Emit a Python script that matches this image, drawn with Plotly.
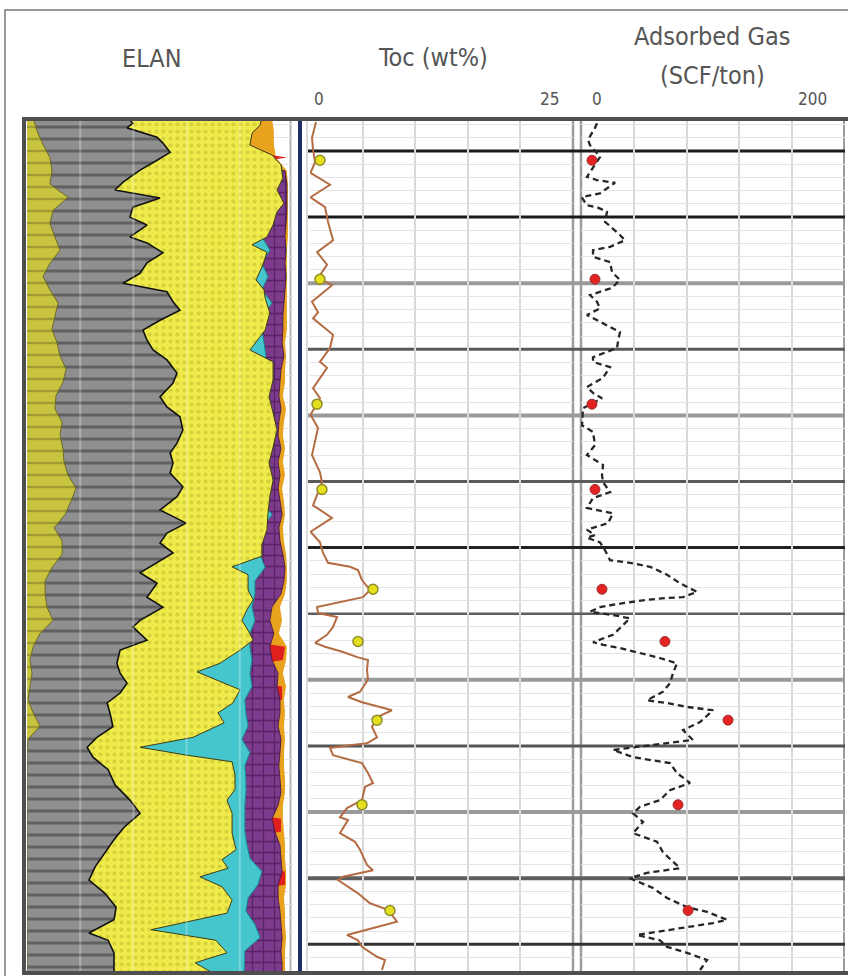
import plotly.graph_objects as go

W, H = 848, 976

# ---------------- data ----------------
# ELAN volume curves sampled every 2 ft; cumulative boundaries in % of bulk volume
elan_depth = list(range(4995, 5127, 2))

olive_top = [
    2.3, 3.8, 6.0, 8.6, 9.4, 8.6, 15.4, 9.8, 8.6, 10.5,
    12.4, 8.6, 6.0, 8.6, 11.7, 10.5, 9.4, 11.3, 12.4, 14.7,
    13.5, 10.9, 10.5, 13.2, 12.4, 13.5, 13.9, 15.4, 18.4, 16.5,
    14.3, 10.2, 13.2, 13.2, 9.4, 6.8, 6.8, 7.5, 9.8, 4.9,
    2.3, 1.1, 1.9, 1.1, 0.4, 2.3, 4.9, 0.4, 0.0, 0.0,
    0.0, 0.0, 0.0, 0.0, 0.0, 0.0, 0.0, 0.0, 0.0, 0.0,
    0.0, 0.0, 0.0, 0.0, 0.0, 0.0]

calcite_top = [
    65.0, 65.0, 65.0, 65.0, 65.0, 65.0, 65.0, 65.0, 65.0, 88.3,
    91.3, 88.3, 90.6, 88.3, 92.1, 88.3, 88.3, 89.1, 89.8, 88.3,
    88.3, 88.3, 88.3, 88.3, 88.3, 88.3, 88.3, 88.3, 88.3, 88.3,
    92.1, 88.3, 86.8, 87.6, 89.5, 85.7, 85.7, 84.6, 85.7, 83.8,
    83.8, 84.6, 83.8, 84.6, 81.9, 82.3, 83.1, 80.8, 83.8, 81.9,
    82.3, 82.3, 81.9, 81.9, 81.9, 82.7, 83.8, 88.3, 86.8, 83.1,
    82.3, 85.7, 87.6, 81.9, 81.6, 81.6]

dolomite_top = [
    65.0, 65.0, 65.0, 65.0, 97.0, 97.7, 97.7, 97.7, 97.4, 97.0,
    97.4, 97.0, 97.4, 97.0, 96.6, 96.2, 96.2, 95.9, 96.6, 95.5,
    95.1, 94.7, 95.5, 94.7, 94.4, 95.5, 94.4, 95.1, 94.4, 95.1,
    95.9, 94.7, 95.1, 96.2, 97.0, 96.6, 95.5, 92.1, 91.3, 92.8,
    91.3, 92.1, 94.4, 94.0, 95.1, 95.1, 94.4, 95.5, 95.1, 94.7,
    95.1, 95.5, 94.4, 92.1, 93.2, 95.1, 95.5, 95.9, 94.4, 94.4,
    95.1, 95.5, 95.9, 95.5, 95.9, 95.9]

pyrite_top = [
    65.0, 65.0, 65.0, 97.7, 65.0, 65.0, 65.0, 65.0, 65.0, 65.0,
    65.0, 65.0, 65.0, 65.0, 65.0, 65.0, 65.0, 65.0, 65.0, 65.0,
    65.0, 65.0, 65.0, 65.0, 65.0, 65.0, 65.0, 65.0, 65.0, 65.0,
    65.0, 65.0, 65.0, 65.0, 65.0, 65.0, 65.0, 65.0, 65.0, 65.0,
    97.0, 96.2, 65.0, 95.9, 95.9, 65.0, 65.0, 65.0, 65.0, 65.0,
    65.0, 65.0, 65.0, 95.5, 95.5, 65.0, 65.0, 97.0, 97.0, 65.0,
    65.0, 65.0, 96.6, 65.0, 65.0, 65.0]

orange_top = [
    92.1, 92.8, 92.8, 93.6, 97.7, 98.1, 98.1, 98.1, 98.1, 98.1,
    97.7, 97.7, 97.7, 97.7, 97.7, 97.7, 97.7, 97.0, 97.4, 97.0,
    97.0, 96.2, 97.4, 96.6, 96.2, 97.0, 96.2, 97.0, 95.9, 96.6,
    97.0, 96.2, 96.6, 97.4, 97.7, 97.7, 97.0, 95.1, 95.9, 94.7,
    97.7, 97.4, 96.2, 97.4, 96.6, 97.0, 96.6, 97.0, 96.6, 96.6,
    97.0, 97.0, 96.2, 96.2, 96.6, 97.0, 97.0, 97.4, 97.4, 96.6,
    97.0, 97.0, 97.4, 97.0, 97.0, 97.0]

# shale / sand boundaries picked at their own depths
shale_depth = [
    4995.0, 4995.8, 4996.5, 4997.9, 4998.8, 5000.2, 5001.4, 5002.9, 5004.7, 5005.9,
    5007.1, 5008.5, 5010.0, 5011.2, 5013.0, 5013.9, 5015.4, 5016.9, 5018.5, 5020.0,
    5021.3, 5022.8, 5024.1, 5025.6, 5027.1, 5028.6, 5030.1, 5031.6, 5033.6, 5035.1,
    5037.2, 5038.7, 5040.2, 5042.2, 5044.2, 5045.7, 5047.2, 5048.7, 5050.8, 5052.3,
    5054.3, 5056.3, 5057.8, 5059.3, 5060.8, 5062.3, 5063.8, 5065.4, 5067.5, 5069.0,
    5071.0, 5072.0, 5074.0, 5075.5, 5077.5, 5079.0, 5080.5, 5082.0, 5083.5, 5085.0,
    5087.1, 5088.7, 5090.2, 5091.7, 5093.6, 5095.9, 5098.2, 5100.2, 5102.3, 5104.2,
    5106.2, 5108.3, 5110.3, 5112.3, 5114.4, 5116.3, 5118.3, 5119.4, 5121.3, 5123.4,
    5125.0]
shale_top = [
    38.0, 39.8, 37.6, 48.9, 51.1, 53.8, 48.9, 42.5, 36.1, 33.1,
    50.0, 39.8, 38.7, 45.1, 38.7, 45.1, 51.1, 45.1, 42.5, 36.1,
    52.6, 54.9, 57.5, 50.0, 43.6, 45.1, 47.4, 52.6, 56.4, 54.9,
    50.0, 52.6, 57.5, 58.6, 56.4, 53.8, 54.9, 53.8, 58.6, 56.4,
    50.0, 59.8, 52.6, 50.0, 54.9, 48.9, 42.5, 48.9, 45.1, 51.1,
    42.5, 39.8, 45.1, 35.0, 33.8, 35.0, 37.6, 35.0, 30.1, 31.2,
    32.3, 26.3, 22.6, 24.8, 30.5, 33.1, 38.7, 42.5, 36.5, 32.7,
    29.3, 25.6, 23.3, 29.3, 33.5, 32.7, 23.3, 30.5, 32.7, 32.7,
    32.7]

sand_depth = [
    4995.0, 4996.1, 4997.3, 4999.1, 5000.6, 5002.1, 5004.1, 5005.9, 5007.9, 5009.2,
    5011.2, 5013.0, 5014.2, 5015.3, 5017.2, 5019.5, 5021.0, 5022.2, 5024.5, 5027.1,
    5030.1, 5031.9, 5034.6, 5037.2, 5039.6, 5042.2, 5044.8, 5047.2, 5049.8, 5052.3,
    5054.8, 5057.3, 5059.6, 5061.3, 5062.9, 5064.1, 5066.4, 5067.9, 5069.4, 5071.0,
    5072.5, 5074.0, 5075.5, 5077.5, 5078.8, 5080.0, 5081.5, 5083.5, 5085.0, 5086.5,
    5088.7, 5090.2, 5091.4, 5092.4, 5094.4, 5096.6, 5098.2, 5100.2, 5103.2, 5105.7,
    5107.2, 5108.5, 5109.8, 5111.3, 5113.3, 5115.3, 5116.8, 5117.8, 5119.4, 5121.3,
    5122.8, 5125.0]
sand_top = [
    88.3, 87.6, 84.6, 83.8, 92.1, 95.5, 96.2, 94.0, 96.6, 94.0,
    92.5, 90.2, 84.6, 90.2, 88.7, 86.1, 89.1, 89.5, 91.3, 89.5,
    83.8, 92.5, 92.5, 91.0, 92.5, 94.0, 92.5, 91.0, 92.5, 91.3,
    90.6, 90.2, 88.3, 88.3, 77.1, 83.1, 83.1, 85.0, 82.7, 80.8,
    83.1, 85.0, 80.1, 72.5, 63.9, 71.4, 80.1, 77.4, 71.8, 74.1,
    62.4, 42.5, 60.1, 77.1, 78.2, 78.2, 75.2, 77.1, 77.1, 78.6,
    73.3, 75.6, 65.0, 73.3, 77.1, 75.2, 57.5, 46.6, 71.0, 75.2,
    63.2, 72.5]

# TOC log (wt%)
toc_depth = [
    4995.6, 4996.1, 4998.0, 4999.8, 5001.7, 5003.3, 5005.1, 5007.0, 5008.5, 5010.7,
    5013.5, 5015.3, 5017.2, 5019.2, 5020.3, 5022.8, 5024.4, 5025.3, 5027.8, 5029.8,
    5031.9, 5032.8, 5035.9, 5037.4, 5039.9, 5041.9, 5044.0, 5046.0, 5048.6, 5050.1,
    5053.6, 5055.5, 5057.6, 5059.2, 5060.8, 5062.3, 5062.9, 5063.4, 5064.9, 5066.4,
    5067.5, 5067.9, 5068.4, 5069.0, 5069.9, 5070.5, 5072.0, 5073.2, 5074.4, 5075.0,
    5075.8, 5076.6, 5077.0, 5078.5, 5080.0, 5081.8, 5082.6, 5083.4, 5084.1, 5084.6,
    5085.6, 5087.1, 5088.7, 5089.6, 5089.9, 5090.3, 5091.4, 5092.1, 5092.6, 5094.1,
    5095.6, 5096.2, 5098.2, 5099.4, 5100.8, 5101.2, 5103.2, 5104.5, 5105.7, 5108.0,
    5108.8, 5109.8, 5110.3, 5112.3, 5113.8, 5114.8, 5116.6, 5117.4, 5118.6, 5119.4,
    5120.4, 5121.9, 5122.4, 5123.9]
toc_wt = [
    0.57, 0.48, 0.19, 0.29, 0.48, 0.05, 1.90, 0.05, 1.43, 1.71,
    2.19, 0.67, 1.62, 0.76, 2.09, 0.19, 0.76, 0.29, 2.19, 1.90,
    0.95, 1.62, 0.29, 0.95, 0.05, 0.76, 0.48, 0.19, 0.95, 1.14,
    0.29, 2.09, 0.05, 0.95, 1.24, 1.71, 3.80, 4.56, 4.94, 5.70,
    5.04, 3.80, 2.19, 0.67, 0.76, 2.57, 2.19, 1.62, 0.48, 1.43,
    3.14, 4.56, 5.51, 5.42, 5.51, 4.75, 3.61, 4.94, 6.65, 7.79,
    6.46, 5.89, 6.37, 5.42, 3.80, 1.90, 2.19, 3.80, 4.94, 5.51,
    5.99, 5.23, 4.94, 3.52, 2.85, 3.61, 2.85, 4.28, 4.75, 5.42,
    5.99, 3.14, 2.66, 4.56, 5.70, 7.41, 8.27, 6.37, 3.52, 4.56,
    4.94, 6.37, 7.13, 6.84]

# adsorbed gas log (SCF/ton)
gas_depth = [
    4995.8, 4996.5, 4998.3, 4999.1, 5000.9, 5003.9, 5004.4, 5004.8, 5006.4, 5007.0,
    5008.2, 5008.5, 5009.2, 5010.7, 5012.7, 5013.5, 5014.5, 5015.0, 5016.0, 5016.8,
    5018.3, 5019.5, 5020.7, 5021.8, 5022.8, 5023.8, 5024.8, 5026.0, 5027.4, 5028.9,
    5029.8, 5031.2, 5031.9, 5032.7, 5034.3, 5035.7, 5036.6, 5037.4, 5038.9, 5041.5,
    5042.5, 5044.5, 5046.0, 5047.5, 5049.0, 5050.1, 5051.6, 5052.5, 5054.0, 5054.8,
    5056.3, 5057.3, 5058.1, 5058.5, 5059.2, 5060.4, 5061.9, 5062.3, 5062.9, 5064.1,
    5065.4, 5066.7, 5067.5, 5067.6, 5067.9, 5068.4, 5069.0, 5069.7, 5070.2, 5070.7,
    5072.2, 5073.2, 5074.3, 5074.7, 5075.2, 5075.9, 5076.7, 5077.5, 5079.0, 5080.5,
    5081.8, 5083.1, 5083.5, 5084.1, 5084.6, 5086.4, 5087.6, 5089.1, 5089.6, 5089.9,
    5090.6, 5091.7, 5092.1, 5092.6, 5094.1, 5095.6, 5096.7, 5098.2, 5099.2, 5100.2,
    5101.5, 5103.2, 5104.5, 5106.1, 5108.5, 5109.2, 5110.0, 5111.5, 5113.0, 5114.4,
    5115.1, 5116.3, 5116.8, 5117.4, 5117.8, 5118.6, 5119.4, 5120.4, 5121.3, 5122.4,
    5123.9]
gas_scf = [
    12.1, 10.6, 5.3, 6.8, 14.4, 4.5, 12.1, 25.8, 14.4, 0.5,
    4.5, 12.1, 19.7, 18.2, 29.5, 33.3, 22.0, 9.1, 9.1, 22.0,
    23.5, 29.5, 23.5, 6.8, 12.1, 14.4, 4.5, 15.9, 29.5, 28.0,
    27.3, 9.1, 9.1, 22.0, 16.7, 4.5, 9.1, 15.9, 1.5, 0.8,
    9.1, 10.6, 4.5, 16.7, 15.9, 16.7, 22.0, 9.1, 4.5, 24.2,
    20.5, 4.5, 10.6, 4.5, 14.4, 18.2, 22.0, 37.1, 52.3, 65.2,
    75.0, 87.9, 77.3, 65.2, 50.0, 31.8, 14.4, 6.8, 24.2, 37.1,
    29.5, 24.2, 9.1, 16.7, 29.5, 44.7, 59.8, 72.7, 69.7, 67.4,
    62.1, 50.0, 65.2, 80.3, 100.0, 90.2, 77.3, 84.8, 65.2, 50.0,
    24.2, 39.4, 52.3, 67.4, 72.7, 82.6, 67.4, 59.8, 44.7, 39.4,
    47.0, 39.4, 57.6, 62.1, 75.0, 50.0, 37.1, 54.5, 65.2, 80.3,
    95.5, 110.6, 100.0, 80.3, 65.2, 42.4, 59.8, 65.2, 80.3, 95.5,
    90.2]

# core measurements
core_depth = [5001.4, 5019.4, 5038.3, 5051.2, 5066.3, 5074.2, 5086.1, 5098.9, 5114.9]
core_toc = [0.95, 0.95, 0.67, 1.14, 5.99, 4.56, 6.37, 4.94, 7.60]
core_gas = [8.3, 10.6, 8.3, 10.6, 15.9, 63.6, 111.4, 73.5, 81.1]

# depth markers every 10 ft
marker_depths = list(range(5000, 5121, 10))

# ---------------- layout helpers ----------------
def px(x):
    return x / W


def py(y):
    return 1 - y / H


TOP_PX, BOT_PX = 121, 971
D_TOP, D_BOT = 4995.46, 5124.05

fig = go.Figure()

# ELAN: stacked volumes drawn right-to-left, each filled to the track origin
elan_layers = [
    (orange_top, elan_depth, '#e9a21e', None, dict(width=0)),
    (pyrite_top, elan_depth, '#e01f1f', None, dict(width=0)),
    (dolomite_top, elan_depth, '#7c3b8c',
     dict(shape='+', fgcolor='#572364', bgcolor='#7c3b8c', size=11, solidity=0.22, fillmode='replace'),
     dict(color='#3a1440', width=0.8)),
    (calcite_top, elan_depth, '#45c6cd', None, dict(color='#168b92', width=1)),
    (sand_top, sand_depth, '#efeb4b',
     dict(shape='.', fgcolor='#d6d13c', bgcolor='#efeb4b', size=7, solidity=0.28, fillmode='replace'),
     dict(color='#3d3d16', width=1)),
    (shale_top, shale_depth, '#8f8f8f',
     dict(shape='-', fgcolor='#616161', bgcolor='#8f8f8f', size=12, solidity=0.25, fillmode='replace'),
     dict(color='#111111', width=1.6)),
    (olive_top, elan_depth, '#c9c440',
     dict(shape='-', fgcolor='#a09c30', bgcolor='#c9c440', size=12, solidity=0.2, fillmode='replace'),
     dict(color='#6b6a25', width=1)),
]
for vals, dep, color, pattern, line in elan_layers:
    kw = dict(x=vals, y=dep, xaxis='x', yaxis='y', mode='lines', fill='tozerox',
              fillcolor=color, line=line, hoverinfo='skip')
    if pattern:
        kw['fillpattern'] = pattern
    fig.add_trace(go.Scatter(**kw))

# TOC log and core points
fig.add_trace(go.Scatter(x=toc_wt, y=toc_depth, xaxis='x2', yaxis='y', mode='lines',
                         line=dict(color='#b36c44', width=2)))
fig.add_trace(go.Scatter(x=core_toc, y=core_depth, xaxis='x2', yaxis='y', mode='markers',
                         marker=dict(symbol='circle', size=10, color='#e4e01e',
                                     line=dict(color='#8e8b2c', width=1.5))))

# adsorbed gas log and core points
fig.add_trace(go.Scatter(x=gas_scf, y=gas_depth, xaxis='x3', yaxis='y', mode='lines',
                         line=dict(color='#262626', width=2.3, dash='6px,4px')))
fig.add_trace(go.Scatter(x=core_gas, y=core_depth, xaxis='x3', yaxis='y', mode='markers',
                         marker=dict(symbol='circle', size=10, color='#e42222',
                                     line=dict(color='#9c3232', width=1))))

minor_depths = [d for d in range(4996, 5125, 2) if d % 10]

axis_common = dict(showline=False, zeroline=False, showticklabels=False, ticks='',
                   anchor='y', fixedrange=True)
fig.update_layout(
    width=W, height=H,
    margin=dict(l=0, r=0, t=0, b=0),
    paper_bgcolor='white',
    plot_bgcolor='rgba(0,0,0,0)',
    showlegend=False,
    xaxis=dict(domain=[px(27), px(293)], range=[0, 100], showgrid=False, **axis_common),
    xaxis2=dict(domain=[px(310), px(573)], range=[0, 25], showgrid=True,
                tickmode='array', tickvals=[5, 10, 15, 20],
                gridcolor='#d9d9d9', gridwidth=2, **axis_common),
    xaxis3=dict(domain=[px(581), px(845)], range=[0, 200], showgrid=True,
                tickmode='array', tickvals=[40, 80, 120, 160],
                gridcolor='#d9d9d9', gridwidth=2, **axis_common),
    yaxis=dict(domain=[py(BOT_PX), py(TOP_PX)], range=[D_BOT, D_TOP], anchor='x',
               showgrid=True, tickmode='array', tickvals=minor_depths,
               gridcolor='#e4e4e4', gridwidth=1, showline=False, zeroline=False,
               showticklabels=False, ticks='', fixedrange=True),
)

shapes = []
# track separators
for xpix, col, wid in [(290.5, '#b3b3b3', 2), (307, '#cfcfcf', 1.5), (573, '#9c9c9c', 2.5),
                       (581, '#9c9c9c', 2.5), (844, '#9c9c9c', 2)]:
    shapes.append(dict(type='line', xref='paper', yref='paper', x0=px(xpix), x1=px(xpix),
                       y0=py(BOT_PX), y1=py(TOP_PX), line=dict(color=col, width=wid), layer='below'))
# depth markers across the TOC and gas tracks
marker_style = [('#1a1a1a', 3), ('#1a1a1a', 3), ('#9a9a9a', 4), ('#5a5a5a', 3), ('#9a9a9a', 4),
                ('#5a5a5a', 3), ('#222222', 3), ('#5e5e5e', 2.5), ('#9a9a9a', 4), ('#555555', 3),
                ('#9a9a9a', 4), ('#5e5e5e', 4), ('#333333', 3)]
for d, (col, wid) in zip(marker_depths, marker_style):
    shapes.append(dict(type='line', xref='paper', yref='y', x0=px(308), x1=px(845),
                       y0=d, y1=d, line=dict(color=col, width=wid), layer='below'))
# faint vertical grid over the ELAN fill
for v in [20, 40, 60, 80]:
    shapes.append(dict(type='line', xref='x', yref='paper', x0=v, x1=v,
                       y0=py(BOT_PX), y1=py(TOP_PX),
                       line=dict(color='rgba(255,255,255,0.28)', width=2), layer='above'))
# navy curve-track divider
shapes.append(dict(type='line', xref='paper', yref='paper', x0=px(300), x1=px(300),
                   y0=py(BOT_PX), y1=py(TOP_PX), line=dict(color='#1f2f66', width=4), layer='above'))
# frames
shapes.append(dict(type='rect', xref='paper', yref='paper', x0=px(24), x1=px(851),
                   y0=py(973), y1=py(119), line=dict(color='#4e4e4e', width=4), layer='above'))
shapes.append(dict(type='rect', xref='paper', yref='paper', x0=px(5), x1=px(860),
                   y0=py(990), y1=py(10), line=dict(color='#777777', width=1.5), layer='above'))
fig.update_layout(shapes=shapes)

FONT = 'Liberation Sans Narrow, DejaVu Sans Condensed, Liberation Sans, sans-serif'
TXT = '#555555'
labels = [
    ('ELAN', 152, 58, 25),
    ('Toc (wt%)', 433, 57, 25),
    ('Adsorbed Gas', 712, 37, 25),
    ('(SCF/ton)', 712, 75, 25),
    ('0', 319, 99, 17),
    ('25', 549, 99, 17),
    ('0', 597, 99, 17),
    ('200', 812, 99, 17),
]
for text, xpix, ypix, size in labels:
    fig.add_annotation(text=text, xref='paper', yref='paper', x=px(xpix), y=py(ypix),
                       xanchor='center', yanchor='middle', showarrow=False,
                       font=dict(family=FONT, size=size, color=TXT))

fig.write_html('out.html')
